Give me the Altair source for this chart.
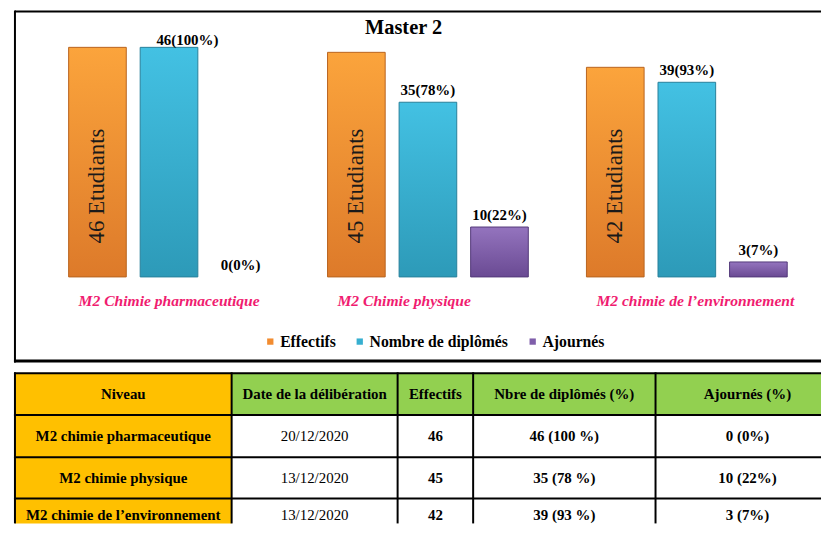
import altair as alt
import pandas as pd

# ---------------- data ----------------
categories = ["M2 Chimie pharmaceutique", "M2 Chimie physique", "M2 chimie de l’environnement"]
series = ["Effectifs", "Nombre de diplômés", "Ajournés"]
effectifs = [46, 45, 42]
diplomes = [46, 35, 39]
diplomes_pct = [100, 78, 93]
ajournes = [0, 10, 3]
ajournes_pct = [0, 22, 7]

niveaux = ["M2 chimie pharmaceutique", "M2 chimie physique", "M2 chimie de l’environnement"]
dates = ["20/12/2020", "13/12/2020", "13/12/2020"]
table_header = ["Niveau", "Date de la délibération", "Effectifs", "Nbre de diplômés (%)", "Ajournés (%)"]
title_text = "Master 2"

# ---------------- layout / style ----------------
FONT = "Liberation Serif"
W = 811
H_TOP = 352
Y_DOMAIN = [-16.93, 53.17]
COL_W = [218, 167, 76, 183.5, 185]
ROW_H = [42, 42.5, 41.5, 42]
T_H = 151
PINK = "#F01C70"
GOLD = "#FFC000"
GREEN = "#92D050"
MID = ["#F28C30", "#36AFD0", "#7F5EAA"]
TOPC = ["#FBA43C", "#43C1E3", "#9474BE"]
BOTC = ["#DD7A2A", "#2D9AB8", "#6A4A93"]
EDGE = ["#B8641F", "#27809A", "#54397A"]

# ---------------- bar chart ----------------
rows = []
for i, c in enumerate(categories):
    vals = [effectifs[i], diplomes[i], ajournes[i]]
    labels = [f"{effectifs[i]} Etudiants",
              f"{diplomes[i]}({diplomes_pct[i]}%)",
              f"{ajournes[i]}({ajournes_pct[i]}%)"]
    for j, s in enumerate(series):
        rows.append({"cat": c, "series": s, "value": vals[j], "label": labels[j],
                     "special": bool(i == 0 and j == 1)})
bars = pd.DataFrame(rows)

# band layout: step 260.5 px, bar groups starting 54 px into the frame
_outer = W - 260.5 * (3 - 0.2246)
xscale = alt.Scale(domain=categories, paddingInner=0.2246,
                   paddingOuter=_outer / 2 / 260.5, align=54 / _outer)
X = alt.X("cat:N", sort=categories, scale=xscale, axis=None)
XO = alt.XOffset("series:N", sort=series,
                 scale=alt.Scale(domain=series, paddingInner=0.1944, paddingOuter=0))
Y = alt.Y("value:Q", scale=alt.Scale(domain=Y_DOMAIN, nice=False, zero=False), axis=None)

base = alt.Chart(bars)

solid = base.mark_bar(opacity=0).encode(
    x=X, xOffset=XO, y=Y,
    color=alt.Color("series:N", sort=series, title=None,
                    scale=alt.Scale(domain=series, range=MID),
                    legend=alt.Legend(orient="none", legendX=249, legendY=324,
                                      direction="horizontal", symbolType="square",
                                      symbolSize=40, symbolStrokeWidth=0, symbolOpacity=1,
                                      labelFont=FONT, labelFontWeight="bold",
                                      labelFontSize=15.8, labelColor="#000",
                                      labelOffset=2, columnPadding=16, padding=0)),
)

grad_layers = []
for j, s in enumerate(series):
    grad = alt.LinearGradient(
        gradient="linear", x1=0, x2=0, y1=0, y2=1,
        stops=[alt.GradientStop(offset=0, color=TOPC[j]),
               alt.GradientStop(offset=1, color=BOTC[j])])
    grad_layers.append(
        base.transform_filter((alt.datum.series == s) & (alt.datum.value > 0))
        .mark_bar(fill=grad, stroke=EDGE[j], strokeWidth=1)
        .encode(x=X, xOffset=XO, y=Y)
    )

inner_text = base.transform_filter(alt.datum.series == series[0]).mark_text(
    angle=270, font=FONT, fontSize=23, color="#1a1a1a", align="center", baseline="middle"
).encode(x=X, xOffset=XO, y=alt.value(175.5), text="label:N")

val_text = base.transform_filter(
    (alt.datum.series != series[0]) & (alt.datum.special == False)
).mark_text(font=FONT, fontSize=15, fontWeight="bold", color="#000",
            baseline="middle", dy=-12).encode(x=X, xOffset=XO, y=Y, text="label:N")

val_special = base.transform_filter(alt.datum.special == True).mark_text(
    font=FONT, fontSize=15, fontWeight="bold", color="#000",
    baseline="middle", dy=-7.5, dx=18.5).encode(x=X, xOffset=XO, y=Y, text="label:N")

cat_text = alt.Chart(pd.DataFrame({"cat": categories})).mark_text(
    font=FONT, fontSize=15.7, fontWeight="bold", fontStyle="italic", color=PINK,
    align="left", baseline="middle", dx=10
).encode(x=alt.X("cat:N", sort=categories, scale=xscale, axis=None, bandPosition=0),
         y=alt.value(291.5), text="cat:N")

title = alt.Chart(pd.DataFrame({"t": [title_text]})).mark_text(
    font=FONT, fontSize=20.5, fontWeight="bold", color="#000", align="center",
    baseline="alphabetic"
).encode(x=alt.value(391), y=alt.value(23), text="t:N")

one = pd.DataFrame({"a": [0]})
box_top = alt.Chart(one).mark_rule(color="black", strokeWidth=2).encode(
    x=alt.value(0), x2=alt.value(W), y=alt.value(0))
box_left = alt.Chart(one).mark_rule(color="black", strokeWidth=2).encode(
    x=alt.value(0), y=alt.value(-1), y2=alt.value(H_TOP + 1))
box_bottom = alt.Chart(one).mark_rule(color="black", strokeWidth=3).encode(
    x=alt.value(-1), x2=alt.value(W), y=alt.value(H_TOP - 0.5))

top = alt.layer(solid, *grad_layers, inner_text, val_text, val_special,
                cat_text, title, box_top, box_left, box_bottom
                ).properties(width=W, height=H_TOP)

# ---------------- table ----------------
xs = [sum(COL_W[:k]) for k in range(len(COL_W) + 1)]
ys = [sum(ROW_H[:k]) for k in range(len(ROW_H) + 1)]
body = []
for i in range(len(niveaux)):
    body.append([niveaux[i], dates[i], str(effectifs[i]),
                 f"{diplomes[i]} ({diplomes_pct[i]} %)", f"{ajournes[i]} ({ajournes_pct[i]}%)"])
cells = []
for r, line in enumerate([table_header] + body):
    for k, v in enumerate(line):
        if r == 0:
            fill = GOLD if k == 0 else GREEN
        else:
            fill = GOLD if k == 0 else "#FFFFFF"
        cells.append({"x0": xs[k], "x1": xs[k + 1], "xc": (xs[k] + xs[k + 1]) / 2,
                      "y0": ys[r], "y1": ys[r + 1],
                      "yc": min((ys[r] + ys[r + 1]) / 2, T_H - 8),
                      "text": v, "bold": bool(r == 0 or k != 1), "fill": fill})
cells = pd.DataFrame(cells)

TX = alt.Scale(domain=[0, W], nice=False, zero=False)
TYS = alt.Scale(domain=[0, T_H], nice=False, zero=False, reverse=True)
tb = alt.Chart(cells)
rects = tb.mark_rect(clip=True).encode(
    x=alt.X("x0:Q", scale=TX, axis=None), x2="x1:Q",
    y=alt.Y("y0:Q", scale=TYS, axis=None), y2="y1:Q",
    fill=alt.Fill("fill:N", scale=None))
t_bold = tb.transform_filter(alt.datum.bold == True).mark_text(
    font=FONT, fontSize=15, fontWeight="bold", color="#000", baseline="middle", clip=True
).encode(x=alt.X("xc:Q", scale=TX, axis=None), y=alt.Y("yc:Q", scale=TYS, axis=None),
         text="text:N")
t_reg = tb.transform_filter(alt.datum.bold == False).mark_text(
    font=FONT, fontSize=15, color="#000", baseline="middle", clip=True
).encode(x=alt.X("xc:Q", scale=TX, axis=None), y=alt.Y("yc:Q", scale=TYS, axis=None),
         text="text:N")

hlines = alt.Chart(pd.DataFrame({"y": [v for v in ys if v < T_H]})).mark_rule(
    color="black", strokeWidth=2).encode(
    y=alt.Y("y:Q", scale=TYS, axis=None), x=alt.value(-1), x2=alt.value(W))
vlines = alt.Chart(pd.DataFrame({"x": [v for v in xs if v < W]})).mark_rule(
    color="black", strokeWidth=2).encode(
    x=alt.X("x:Q", scale=TX, axis=None), y=alt.value(-1), y2=alt.value(T_H))

table = alt.layer(rects, t_bold, t_reg, hlines, vlines).properties(width=W, height=T_H)

chart = alt.vconcat(top, table, spacing=8).properties(
    padding={"left": 4, "top": 0, "right": 0, "bottom": 0}, background="white"
).configure_view(strokeWidth=0)

chart.save("out.html", embed_options={"renderer": "svg", "actions": False})
